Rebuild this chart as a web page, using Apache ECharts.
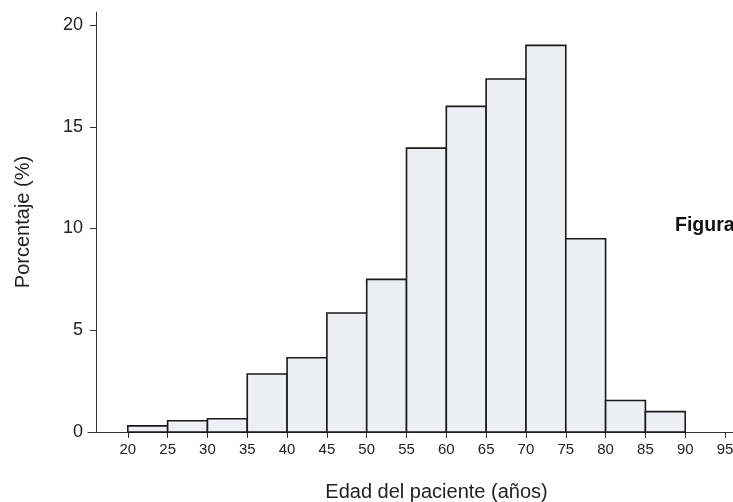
<!DOCTYPE html>
<html>
<head>
<meta charset="utf-8">
<script src="https://cdn.jsdelivr.net/npm/echarts@6/dist/echarts.min.js"></script>
<style>
  html, body { margin: 0; padding: 0; background: #fff; }
  #chart { width: 733px; height: 502px; }
</style>
</head>
<body>
<div id="chart"></div>
<script>
// intervalos de edad (inicio de cada barra, ancho 5 años)
let binStart = [20, 25, 30, 35, 40, 45, 50, 55, 60, 65, 70, 75, 80, 85];
let binWidth = 5;
// porcentaje de pacientes por intervalo
let percent = [0.3, 0.55, 0.65, 2.85, 3.65, 5.85, 7.5, 13.95, 16.0, 17.35, 19.0, 9.5, 1.55, 1.0];
let xTicks = [20, 25, 30, 35, 40, 45, 50, 55, 60, 65, 70, 75, 80, 85, 90, 95];
let yTicks = [0, 5, 10, 15, 20];

let data = binStart.map((s, i) => [s, s + binWidth, percent[i]]);

let myChart = echarts.init(document.getElementById('chart'));
let font = '"Liberation Sans", Arial, sans-serif';

let option = {
  animation: false,
  grid: { left: 88, right: 0, top: 12, bottom: 70, outerBoundsMode: 'none', containLabel: false },
  xAxis: {
    type: 'value',
    min: 15,
    max: 96,
    name: 'Edad del paciente (años)',
    nameLocation: 'middle',
    nameGap: 50,
    // el título está algo desplazado a la derecha
    nameTextStyle: { fontFamily: font, fontSize: 20, color: '#222', padding: [0, 0, 0, 52] },
    axisLine: { show: true, lineStyle: { color: '#333', width: 1 } },
    axisTick: { show: true, length: 6, customValues: xTicks, lineStyle: { color: '#333' } },
    axisLabel: { customValues: xTicks, fontFamily: font, fontSize: 15, color: '#222', margin: 10 },
    splitLine: { show: false }
  },
  yAxis: {
    type: 'value',
    min: 0,
    max: 20.64,
    offset: -8,
    name: 'Porcentaje (%)',
    nameLocation: 'middle',
    nameGap: 63,
    nameRotate: 90,
    nameTextStyle: { fontFamily: font, fontSize: 20, color: '#222' },
    axisLine: { show: true, lineStyle: { color: '#333', width: 1 } },
    axisTick: { show: true, length: 6, customValues: yTicks, lineStyle: { color: '#333' } },
    axisLabel: { customValues: yTicks, fontFamily: font, fontSize: 18, color: '#222', margin: 13 },
    splitLine: { show: false }
  },
  series: [
    {
      type: 'custom',
      data: data,
      encode: { x: [0, 1], y: 2 },
      renderItem: function (params, api) {
        let p0 = api.coord([api.value(0), 0]);
        let p1 = api.coord([api.value(1), api.value(2)]);
        return {
          type: 'rect',
          shape: { x: p0[0], y: p1[1], width: p1[0] - p0[0], height: p0[1] - p1[1] },
          style: { fill: '#eeeff2', stroke: '#1a1a1a', lineWidth: 1.6 }
        };
      }
    }
  ],
  graphic: [
    {
      type: 'text',
      left: 675,
      top: 216,
      style: { text: 'Figura 1', fontFamily: font, fontSize: 19.5, fontWeight: 'bold', fill: '#111' }
    }
  ]
};

myChart.setOption(option);
</script>
</body>
</html>
